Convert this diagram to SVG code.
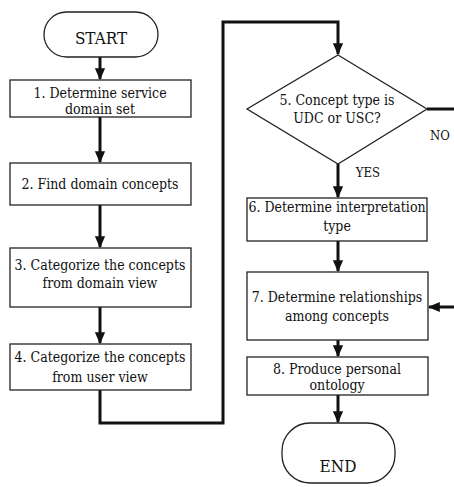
<svg xmlns="http://www.w3.org/2000/svg" width="454" height="487" viewBox="0 0 454 487">
<style>
.box{fill:#fff;stroke:#222;stroke-width:1.3}
.t{font-family:'DejaVu Serif Condensed','DejaVu Serif',serif;font-stretch:condensed;font-size:14px;fill:#111;text-anchor:middle}
.b{font-family:'DejaVu Serif Condensed','DejaVu Serif',serif;font-stretch:condensed;font-size:17px;fill:#111;text-anchor:middle}
.s{font-family:'DejaVu Serif Condensed','DejaVu Serif',serif;font-stretch:condensed;font-size:13px;fill:#111;text-anchor:middle}
.c{fill:none;stroke:#111;stroke-width:3}
</style>
<defs>
<marker id="ah" markerWidth="4" markerHeight="4" refX="3.6" refY="2" orient="auto" markerUnits="strokeWidth">
<path d="M0,0.3 L4,2 L0,3.7 Z" fill="#111"/>
</marker>
</defs>
<rect width="454" height="487" fill="#fff"/>
<g id="connectors">
<line class="c" x1="100" y1="57" x2="100" y2="79" marker-end="url(#ah)"/>
<line class="c" x1="100" y1="117" x2="100" y2="162" marker-end="url(#ah)"/>
<line class="c" x1="100" y1="205" x2="100" y2="247" marker-end="url(#ah)"/>
<line class="c" x1="100" y1="307" x2="100" y2="343" marker-end="url(#ah)"/>
<polyline class="c" points="100,390 100,423 223,423 223,22 338,22 338,54" marker-end="url(#ah)"/>
<line class="c" x1="427" y1="109" x2="454" y2="109"/>
<line class="c" x1="338" y1="164" x2="338" y2="197" marker-end="url(#ah)"/>
<line class="c" x1="338" y1="241" x2="338" y2="271" marker-end="url(#ah)"/>
<line class="c" x1="454" y1="307" x2="429" y2="307" marker-end="url(#ah)"/>
<line class="c" x1="338" y1="340" x2="338" y2="356" marker-end="url(#ah)"/>
<line class="c" x1="338" y1="395" x2="338" y2="422" marker-end="url(#ah)"/>
<text class="s" x="440" y="140">NO</text>
<text class="s" x="368" y="177">YES</text>
</g>
<g id="start">
<rect class="box" x="44" y="12" width="114" height="45" rx="22.5"/>
<text class="b" x="101" y="44">START</text>
</g>
<g id="n1">
<rect class="box" x="10" y="80" width="181" height="37"/>
<text class="t" x="100" y="98">1. Determine service</text>
<text class="t" x="100" y="114">domain set</text>
</g>
<g id="n2">
<rect class="box" x="10" y="163" width="181" height="42"/>
<text class="t" x="100" y="189">2. Find domain concepts</text>
</g>
<g id="n3">
<rect class="box" x="10" y="248" width="181" height="59"/>
<text class="t" x="100" y="270">3. Categorize the concepts</text>
<text class="t" x="100" y="288">from domain view</text>
</g>
<g id="n4">
<rect class="box" x="10" y="344" width="181" height="46"/>
<text class="t" x="100" y="362">4. Categorize the concepts</text>
<text class="t" x="100" y="382">from user view</text>
</g>
<g id="n5">
<polygon class="box" points="338,55 427,109 338,164 247,109"/>
<text class="t" x="337" y="105">5. Concept type is</text>
<text class="t" x="337" y="123">UDC or USC?</text>
</g>
<g id="n6">
<rect class="box" x="247" y="198" width="180" height="43"/>
<text class="t" x="337" y="212">6. Determine interpretation</text>
<text class="t" x="337" y="231">type</text>
</g>
<g id="n7">
<rect class="box" x="247" y="272" width="181" height="68"/>
<text class="t" x="337" y="302">7. Determine relationships</text>
<text class="t" x="337" y="321">among concepts</text>
</g>
<g id="n8">
<rect class="box" x="247" y="357" width="181" height="38"/>
<text class="t" x="337" y="374">8. Produce personal</text>
<text class="t" x="337" y="390">ontology</text>
</g>
<g id="end">
<rect class="box" x="282" y="423" width="113" height="60" rx="28"/>
<text class="b" x="338" y="472">END</text>
</g>
</svg>
